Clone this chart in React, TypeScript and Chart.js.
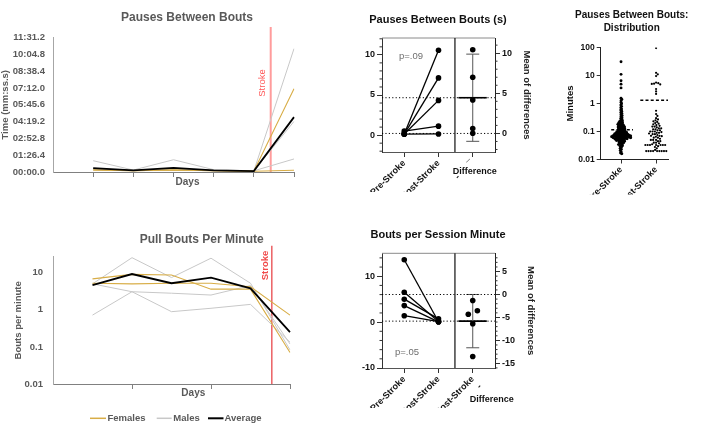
import React, { useEffect, useRef } from 'react';
import { Chart, registerables } from 'chart.js';

Chart.register(...registerables);

const FONT = '"Liberation Sans", Arial, Helvetica, sans-serif';
const W = 701;
const H = 433;

// ---------------- data ----------------
const dayLabels = ['', 'Day 1', 'Day 2', 'Day 3', 'Day 4', 'Day 5', 'Day 6'];

// Pauses between bouts (seconds)
const pauseMaleA = [null, 58, 10, 63, 12, 6, 67];
const pauseMaleB = [null, 12, 8, 12, 8, 5, 634];
const pauseMaleC = [null, 12, 8, 12, 8, 5, 260];
const pauseFemaleA = [null, 10, 7, 10, 7, 4, 428];
const pauseFemaleB = [null, 10, 7, 10, 7, 4, 9];
const pauseAverage = [null, 20, 8, 21, 8, 5, 282];
const pauseTicks = [0, 86.4, 172.8, 259.2, 345.6, 432, 518.4, 604.8, 691.2];
const pauseStrokeAt = 5.42;

// Pull bouts per minute
const boutMaleA = [null, 5.0, 25.4, 7.4, 24.6, 5.2, 0.083];
const boutMaleB = [null, 5.0, 3.07, 2.8, 2.5, 4.5, 0.12];
const boutMaleC = [null, 0.72, 3.07, 0.89, 1.1, 1.4, 0.134];
const boutFemaleA = [null, 6.8, 9.0, 8.7, 3.6, 3.6, 0.071];
const boutFemaleB = [null, 5.2, 5.0, 5.2, 5.2, 4.2, 0.72];
const boutAverage = [null, 4.65, 9.2, 5.2, 7.4, 3.8, 0.25];
const boutTicks = [0.01, 0.1, 1, 10];
const boutStrokeAt = 5.54;

// Paired pre/post: pauses (minutes)
const pausePre = [0.15, 0.13, 0.15, 0.5, 0.13];
const pausePost = [10.57, 7.13, 4.33, 1.12, 0.15];
const pauseDiffJitter = [0, 0, 0, 0, 0];
const pauseLeftTicks = [0, 5, 10];
const pauseRightTicks = [0, 5, 10];
const pauseXLabels = ['Pre-Stroke', 'Post-Stroke', '-      \u00AF'];

// Paired pre/post: bouts per session minute
const sessionPre = [13.6, 6.5, 5.0, 3.6, 1.4];
const sessionPost = [0.08, 0.13, 0.7, 0.07, 0.1];
const sessionDiffJitter = [0, 0, -0.13, 0.135, 0];
const sessionLeftTicks = [-10, 0, 10];
const sessionRightTicks = [-15, -10, -5, 0, 5];
const sessionXLabels = ['Pre-Stroke', 'Post-Stroke', ['Post-Stroke', '-']];

// Distribution of pauses (minutes)
const distCategories = ['Pre-Stroke', 'Post-Stroke'];
const distTicks = [0.01, 0.1, 1, 10, 100];
const distPreMean = 0.115;
const distPostMean = 1.3;
const distPre = [
  31, 11, 6.5, 4.9, 3.6,
  1.55, 1.4, 1.25, 1.1, 0.98, 0.88, 0.79, 0.71, 0.64, 0.58, 0.53, 0.48, 0.44, 0.4, 0.37, 0.34, 0.31, 0.29, 0.27,
  0.25, 0.24, 0.23, 0.22, 0.21, 0.2, 0.2, 0.19, 0.18, 0.18, 0.17, 0.17, 0.16, 0.16, 0.155,
  0.15, 0.145, 0.14, 0.14, 0.135, 0.13, 0.13, 0.125, 0.12, 0.12, 0.115, 0.115, 0.11, 0.11, 0.105, 0.105, 0.1, 0.1,
  0.098, 0.096, 0.095, 0.093, 0.092, 0.09, 0.089, 0.088, 0.087, 0.085, 0.084, 0.083, 0.082, 0.081, 0.08, 0.079,
  0.078, 0.077, 0.076, 0.075, 0.075, 0.074, 0.073, 0.072, 0.072, 0.071, 0.07, 0.07, 0.069, 0.068, 0.068, 0.067,
  0.067, 0.066, 0.065, 0.065, 0.064, 0.063, 0.063, 0.062, 0.062, 0.061, 0.06, 0.06, 0.059, 0.058, 0.058, 0.057,
  0.056, 0.056, 0.055, 0.054, 0.053, 0.052, 0.051, 0.05, 0.049, 0.048, 0.047, 0.046, 0.045,
  0.044, 0.042, 0.041, 0.04, 0.038, 0.037, 0.035, 0.034, 0.032, 0.031,
  0.029, 0.027, 0.025, 0.023, 0.021, 0.019, 0.017, 0.016,
];
const distPost = [
  95, 12.5, 11, 9.5, 5.6, 5.3, 5.1, 5.0, 4.8, 3.3, 2.7, 2.2,
  0.55, 0.42, 0.36, 0.3, 0.27, 0.25, 0.23, 0.22, 0.2, 0.19, 0.18, 0.17, 0.16, 0.15, 0.15, 0.14, 0.13, 0.13,
  0.12, 0.12, 0.11, 0.11, 0.1, 0.1, 0.1, 0.095, 0.09, 0.09, 0.085, 0.08, 0.08, 0.075, 0.07, 0.07, 0.068, 0.065,
  0.06, 0.06, 0.055, 0.05, 0.05, 0.05, 0.045, 0.045, 0.04, 0.04, 0.038, 0.035,
  0.033, 0.033, 0.033, 0.033, 0.033, 0.033, 0.033, 0.03, 0.028, 0.025, 0.022,
  0.02, 0.02, 0.02, 0.02, 0.02, 0.02, 0.02, 0.02, 0.02,
];

// ---------------- styles ----------------
const GOLD = '#d8ad46';
const GRAY_LINE = '#c8c8c8';
const BLACK = '#000000';
const EXCEL_TEXT = '#595959';
const T_CRIT_DF4 = 2.776;

// ---------------- helpers ----------------
function fmtTime(v: number): string {
  const mm = Math.floor(v / 60 + 1e-9);
  const ss = Math.max(0, v - mm * 60);
  return String(mm).padStart(2, '0') + ':' + ss.toFixed(1).padStart(4, '0');
}

function txt(ctx: any, s: string, x: number, y: number, font: string, color: string, align = 'center', rot = 0) {
  ctx.save();
  ctx.translate(x, y);
  ctx.rotate(rot);
  ctx.font = font;
  ctx.fillStyle = color;
  ctx.textAlign = align;
  ctx.textBaseline = 'middle';
  ctx.fillText(s, 0, 0);
  ctx.restore();
}

function seg(ctx: any, x1: number, y1: number, x2: number, y2: number, color: string, w: number, dash: number[] = []) {
  ctx.save();
  ctx.strokeStyle = color;
  ctx.lineWidth = w;
  ctx.setLineDash(dash);
  ctx.beginPath();
  ctx.moveTo(x1, y1);
  ctx.lineTo(x2, y2);
  ctx.stroke();
  ctx.restore();
}

const mean = (a: number[]) => a.reduce((s, v) => s + v, 0) / a.length;
const sd = (a: number[]) => {
  const m = mean(a);
  return Math.sqrt(a.reduce((s, v) => s + (v - m) * (v - m), 0) / (a.length - 1));
};

const baseOptions = (padding: any) => ({
  animation: false,
  responsive: false,
  maintainAspectRatio: false,
  events: [],
  layout: { padding },
  plugins: { legend: { display: false }, tooltip: { enabled: false }, title: { display: false } },
});

function lineDs(label: string, data: any[], color: string, width: number, order: number) {
  return { label, data, borderColor: color, backgroundColor: color, borderWidth: width, pointRadius: 0, tension: 0, fill: false, order };
}

const excelX = (h: number, showTick: (i: number) => boolean) => ({
  type: 'category',
  offset: false,
  ticks: { display: false, autoSkip: false },
  grid: {
    display: true, drawOnChartArea: false, drawTicks: true, tickLength: 5, lineWidth: 1,
    color: (c: any) => (showTick(c.index) ? '#808080' : 'rgba(0,0,0,0)'),
  },
  border: { display: true, color: '#808080', width: 1 },
  afterFit: (s: any) => { s.height = h; },
});

// ---------------- chart A: pauses line ----------------
function makePauseLine() {
  const plugin = {
    id: 'pauseDecor',
    beforeDatasetsDraw(chart: any) {
      const { ctx, scales: { x, y } } = chart;
      const px = x.getPixelForValue(pauseStrokeAt);
      seg(ctx, px, y.top - 10.5, px, y.bottom, '#ff9c9c', 2);
    },
    afterDraw(chart: any) {
      const { ctx, scales: { x, y } } = chart;
      const px = x.getPixelForValue(pauseStrokeAt);
      txt(ctx, 'Pauses Between Bouts', 187, 18, `bold 12px ${FONT}`, EXCEL_TEXT);
      txt(ctx, 'Time (mm:ss.s)', 5.5, (y.top + y.bottom) / 2, `bold 9.5px ${FONT}`, EXCEL_TEXT, 'center', -Math.PI / 2);
      txt(ctx, 'Days', 187.5, 182, `bold 10px ${FONT}`, EXCEL_TEXT);
      txt(ctx, 'Stroke', px - 8, 83, `9.5px ${FONT}`, '#ff5757', 'center', -Math.PI / 2);
    },
  };
  return {
    type: 'line',
    data: {
      labels: dayLabels,
      datasets: [
        lineDs('Average', pauseAverage, BLACK, 1.8, 0),
        lineDs('Females', pauseFemaleA, GOLD, 1.1, 1),
        lineDs('Females', pauseFemaleB, GOLD, 1.1, 1),
        lineDs('Males', pauseMaleA, GRAY_LINE, 1, 2),
        lineDs('Males', pauseMaleB, GRAY_LINE, 1, 2),
        lineDs('Males', pauseMaleC, GRAY_LINE, 1, 2),
      ],
    },
    options: {
      ...baseOptions({ left: 0, top: 37.5, right: W - 294, bottom: H - 172 - 20 }),
      scales: {
        x: excelX(20, (i) => i > 0),
        y: {
          type: 'linear', min: 0, max: 691.2,
          afterBuildTicks: (s: any) => { s.ticks = pauseTicks.map((v) => ({ value: v })); },
          ticks: { callback: (v: any) => fmtTime(Number(v)), color: EXCEL_TEXT, font: { family: FONT, size: 9.5, weight: 'bold' }, padding: 8 },
          grid: { display: false, drawTicks: false },
          border: { display: true, color: '#a6a6a6', width: 1 },
          afterFit: (s: any) => { s.width = 53; },
        },
      },
    },
    plugins: [plugin],
  };
}

// ---------------- chart B: bouts line (log) ----------------
function makeBoutLine() {
  const plugin = {
    id: 'boutDecor',
    beforeDatasetsDraw(chart: any) {
      const { ctx, scales: { x, y } } = chart;
      const px = x.getPixelForValue(boutStrokeAt);
      seg(ctx, px, y.top - 11, px, y.bottom, '#e8474b', 1.3);
    },
    afterDraw(chart: any) {
      const { ctx, scales: { x, y } } = chart;
      const px = x.getPixelForValue(boutStrokeAt);
      txt(ctx, 'Pull Bouts Per Minute', 201.7, 240, `bold 12px ${FONT}`, EXCEL_TEXT);
      txt(ctx, 'Bouts per minute', 18, (y.top + y.bottom) / 2, `bold 9.5px ${FONT}`, EXCEL_TEXT, 'center', -Math.PI / 2);
      txt(ctx, 'Days', 193.3, 393.3, `bold 10px ${FONT}`, EXCEL_TEXT);
      txt(ctx, 'Stroke', px - 6.5, 265.5, `bold 9.5px ${FONT}`, '#f04a4a', 'center', -Math.PI / 2);
      // legend
      const ly = 418.3;
      const f = `bold 9.5px ${FONT}`;
      seg(ctx, 90, ly, 106, ly, GOLD, 1.5);
      txt(ctx, 'Females', 107.5, ly, f, EXCEL_TEXT, 'left');
      seg(ctx, 156.7, ly, 171.7, ly, GRAY_LINE, 1.5);
      txt(ctx, 'Males', 173.3, ly, f, EXCEL_TEXT, 'left');
      seg(ctx, 208, ly, 223.5, ly, BLACK, 2);
      txt(ctx, 'Average', 224.5, ly, f, EXCEL_TEXT, 'left');
    },
  };
  return {
    type: 'line',
    data: {
      labels: dayLabels,
      datasets: [
        lineDs('Average', boutAverage, BLACK, 1.8, 0),
        lineDs('Females', boutFemaleA, GOLD, 1.1, 1),
        lineDs('Females', boutFemaleB, GOLD, 1.1, 1),
        lineDs('Males', boutMaleA, GRAY_LINE, 1, 2),
        lineDs('Males', boutMaleB, GRAY_LINE, 1, 2),
        lineDs('Males', boutMaleC, GRAY_LINE, 1, 2),
      ],
    },
    options: {
      ...baseOptions({ left: 0, top: 256.7, right: W - 290, bottom: H - 384 - 20 }),
      scales: {
        x: excelX(20, (i) => i > 0 && i % 2 === 0),
        y: {
          type: 'logarithmic', min: 0.01, max: 27,
          afterBuildTicks: (s: any) => { s.ticks = boutTicks.map((v) => ({ value: v })); },
          ticks: { callback: (v: any) => String(v), color: EXCEL_TEXT, font: { family: FONT, size: 9.5, weight: 'bold' }, padding: 10 },
          grid: { display: false, drawTicks: false },
          border: { display: true, color: '#a6a6a6', width: 1 },
          afterFit: (s: any) => { s.width = 53; },
        },
      },
    },
    plugins: [plugin],
  };
}

// ---------------- charts C/D: paired estimation plots ----------------
const PX_MIN = 0.35;
const PX_MAX = 3.65;
const DIVIDER_AT = 2.48;

function makePaired(p: any) {
  const { pre, post, jitter, leftMin, leftMax, leftTicks, rightTicks, leftMinor, rightMinor, area, xLabels } = p;
  const preMean = mean(pre);
  const postMean = mean(post);
  const diffs = post.map((v: number, i: number) => v - pre[i]);
  const md = mean(diffs);
  const ci = (T_CRIT_DF4 * sd(diffs)) / Math.sqrt(diffs.length);
  const tickFont = { family: FONT, size: 9, weight: 'bold' };
  const pt = { pointRadius: 2.8, pointBackgroundColor: '#000', pointBorderColor: '#000', pointBorderWidth: 0 };
  const lineOnly = { showLine: true, pointRadius: 0, fill: false };
  const datasets: any[] = [
    { data: [{ x: PX_MIN, y: preMean }, { x: PX_MAX, y: preMean }], ...lineOnly, borderColor: '#000', borderWidth: 1, borderDash: [1.2, 2.2] },
    { data: [{ x: PX_MIN, y: postMean }, { x: PX_MAX, y: postMean }], ...lineOnly, borderColor: '#000', borderWidth: 1, borderDash: [1.2, 2.2] },
  ];
  pre.forEach((v: number, i: number) => {
    datasets.push({ data: [{ x: 1, y: v }, { x: 2, y: post[i] }], showLine: true, borderColor: '#000', borderWidth: 1.3, ...pt });
  });
  datasets.push({ data: diffs.map((d: number, i: number) => ({ x: 3 + jitter[i], y: d })), yAxisID: 'y2', showLine: false, ...pt });
  datasets.push({ data: [{ x: 3, y: md - ci }, { x: 3, y: md + ci }], yAxisID: 'y2', ...lineOnly, borderColor: '#555', borderWidth: 1 });
  datasets.push({ data: [{ x: 2.81, y: md + ci }, { x: 3.19, y: md + ci }], yAxisID: 'y2', ...lineOnly, borderColor: '#555', borderWidth: 1 });
  datasets.push({ data: [{ x: 2.81, y: md - ci }, { x: 3.19, y: md - ci }], yAxisID: 'y2', ...lineOnly, borderColor: '#555', borderWidth: 1 });
  datasets.push({ data: [{ x: 2.58, y: md }, { x: 3.41, y: md }], yAxisID: 'y2', ...lineOnly, borderColor: '#000', borderWidth: 1.6 });

  const plugin = {
    id: 'pairedDecor' + p.key,
    afterDraw(chart: any) {
      const { ctx, chartArea: ca, scales } = chart;
      const { x, y, y2 } = scales;
      seg(ctx, ca.left, ca.top, ca.right, ca.top, '#8a8a8a', 1);
      const dx = x.getPixelForValue(DIVIDER_AT);
      seg(ctx, dx, ca.top, dx, ca.bottom, '#222', 1.3);
      for (let k = Math.ceil(leftMin / leftMinor); k * leftMinor <= leftMax + 1e-9; k++) {
        const v = k * leftMinor;
        if (leftTicks.includes(v)) continue;
        const py = y.getPixelForValue(v);
        seg(ctx, ca.left - 2.5, py, ca.left, py, '#333', 1);
      }
      const rMin = y2.min, rMax = y2.max;
      for (let k = Math.ceil(rMin / rightMinor); k * rightMinor <= rMax + 1e-9; k++) {
        const v = k * rightMinor;
        if (rightTicks.includes(v)) continue;
        const py = y2.getPixelForValue(v);
        seg(ctx, ca.right, py, ca.right + 2.5, py, '#333', 1);
      }
      txt(ctx, p.title, 438, p.titleY, `bold 11px ${FONT}`, '#111');
      txt(ctx, 'Mean of differences', p.rightTitleX, (ca.top + ca.bottom) / 2, `bold 9.5px ${FONT}`, '#222', 'center', Math.PI / 2);
      txt(ctx, p.pText, p.pX, p.pY, `9.5px ${FONT}`, '#6e6e6e');
      txt(ctx, 'Difference', p.diffX, p.diffY, `bold 9px ${FONT}`, '#111');
    },
  };

  return {
    type: 'scatter',
    data: { datasets },
    options: {
      ...baseOptions({ left: area.L - 40, top: area.T, right: W - area.R - 40, bottom: H - area.B - 40 }),
      scales: {
        x: {
          type: 'linear', min: PX_MIN, max: PX_MAX,
          afterBuildTicks: (s: any) => { s.ticks = [1, 2, 3].map((v) => ({ value: v })); },
          ticks: { autoSkip: false, minRotation: 45, maxRotation: 45, padding: 1, color: '#111', font: tickFont, callback: (_v: any, i: number) => xLabels[i] },
          grid: { drawOnChartArea: false, tickLength: 5, color: '#333', lineWidth: 1 },
          border: { display: true, color: '#555', width: 1 },
          afterFit: (s: any) => { s.height = 40; },
        },
        y: {
          type: 'linear', position: 'left', min: leftMin, max: leftMax,
          afterBuildTicks: (s: any) => { s.ticks = leftTicks.map((v: number) => ({ value: v })); },
          ticks: { color: '#111', font: tickFont, padding: 2 },
          grid: { drawOnChartArea: false, tickLength: 5, color: '#333', lineWidth: 1 },
          border: { display: true, color: '#333', width: 1 },
          afterFit: (s: any) => { s.width = 40; },
        },
        y2: {
          type: 'linear', position: 'right', min: leftMin - preMean, max: leftMax - preMean,
          afterBuildTicks: (s: any) => { s.ticks = rightTicks.map((v: number) => ({ value: v })); },
          ticks: { color: '#111', font: tickFont, padding: 2 },
          grid: { drawOnChartArea: false, tickLength: 5, color: '#333', lineWidth: 1 },
          border: { display: true, color: '#222', width: 1 },
          afterFit: (s: any) => { s.width = 40; },
        },
      },
    },
    plugins: [plugin],
  };
}

const makePausePaired = () => makePaired({
  key: 'C', pre: pausePre, post: pausePost, jitter: pauseDiffJitter,
  leftMin: -2.1, leftMax: 12.1, leftTicks: pauseLeftTicks, rightTicks: pauseRightTicks, leftMinor: 1, rightMinor: 1,
  area: { L: 382, T: 38, R: 495, B: 152 }, xLabels: pauseXLabels,
  title: 'Pauses Between Bouts (s)', titleY: 20, rightTitleX: 526.7,
  pText: 'p=.09', pX: 411, pY: 56.7, diffX: 474.7, diffY: 171.7,
});

const makeSessionPaired = () => makePaired({
  key: 'D', pre: sessionPre, post: sessionPost, jitter: sessionDiffJitter,
  leftMin: -10, leftMax: 15, leftTicks: sessionLeftTicks, rightTicks: sessionRightTicks, leftMinor: 2, rightMinor: 1,
  area: { L: 382, T: 253.3, R: 495, B: 368 }, xLabels: sessionXLabels,
  title: 'Bouts per Session Minute', titleY: 235, rightTitleX: 531,
  pText: 'p=.05', pX: 407, pY: 352.7, diffX: 491.7, diffY: 400,
});

// ---------------- chart E: distribution ----------------
function swarmOffsets(ys: number[], d: number, maxHalf: number): number[] {
  const order = ys.map((_y, i) => i).sort((a, b) => ys[a] - ys[b]);
  const placed: { x: number; y: number }[] = [];
  const out = new Array(ys.length).fill(0);
  for (const i of order) {
    const y = ys[i];
    const near = placed.filter((q) => Math.abs(q.y - y) < d);
    const cands = [0];
    for (const q of near) {
      const dx = Math.sqrt(Math.max(0, d * d - (q.y - y) * (q.y - y)));
      cands.push(q.x + dx, q.x - dx);
    }
    cands.sort((a, b) => Math.abs(a) - Math.abs(b));
    let chosen: number | null = null;
    for (const c of cands) {
      if (Math.abs(c) > maxHalf) continue;
      if (near.every((q) => (q.x - c) * (q.x - c) + (q.y - y) * (q.y - y) >= d * d - 1e-6)) { chosen = c; break; }
    }
    if (chosen === null) {
      let best = 0, bestScore = -1;
      for (let c = -maxHalf; c <= maxHalf + 1e-9; c += 0.5) {
        let score = Infinity;
        for (const q of near) score = Math.min(score, (q.x - c) * (q.x - c) + (q.y - y) * (q.y - y));
        if (score > bestScore) { bestScore = score; best = c; }
      }
      chosen = best;
    }
    placed.push({ x: chosen, y });
    out[i] = chosen;
  }
  return out;
}

function makeDist() {
  const ptPre = { pointRadius: 1.45, pointBackgroundColor: '#000', pointBorderColor: '#000', pointBorderWidth: 0, showLine: false };
  const ptPost = { pointRadius: 1.1, pointBackgroundColor: '#000', pointBorderColor: '#000', pointBorderWidth: 0, showLine: false };
  const dashLine = { showLine: true, pointRadius: 0, borderColor: '#000', borderWidth: 1.5, borderDash: [3, 2.2], fill: false };
  const plugin = {
    id: 'distDecor',
    afterDraw(chart: any) {
      const { ctx, chartArea: ca } = chart;
      txt(ctx, 'Pauses Between Bouts:', 631.7, 15, `bold 10px ${FONT}`, '#111');
      txt(ctx, 'Distribution', 631.7, 28.3, `bold 10px ${FONT}`, '#111');
      txt(ctx, 'Minutes', 570, (ca.top + ca.bottom) / 2, `bold 9.5px ${FONT}`, '#111', 'center', -Math.PI / 2);
    },
  };
  return {
    type: 'scatter',
    data: {
      datasets: [
        { data: distPre.map((v) => ({ x: 1, y: v })), ...ptPre },
        { data: distPost.map((v) => ({ x: 2, y: v })), ...ptPost },
        { data: [{ x: 0.72, y: distPreMean }, { x: 1.34, y: distPreMean }], ...dashLine },
        { data: [{ x: 1.55, y: distPostMean }, { x: 2.47, y: distPostMean }], ...dashLine },
      ],
    },
    options: {
      ...baseOptions({ left: 600.7 - 30, top: 47.5, right: W - 668, bottom: H - 159.5 - 35 }),
      scales: {
        x: {
          type: 'linear', min: 0.42, max: 2.34,
          afterBuildTicks: (s: any) => { s.ticks = [1, 2].map((v) => ({ value: v })); },
          ticks: { autoSkip: false, minRotation: 45, maxRotation: 45, padding: 1, color: '#111', font: { family: FONT, size: 9, weight: 'bold' }, callback: (_v: any, i: number) => distCategories[i] },
          grid: { drawOnChartArea: false, tickLength: 4, color: '#333', lineWidth: 1 },
          border: { display: true, color: '#222', width: 1 },
          afterFit: (s: any) => { s.height = 35; },
        },
        y: {
          type: 'logarithmic', min: 0.01, max: 100,
          afterBuildTicks: (s: any) => { s.ticks = distTicks.map((v) => ({ value: v })); },
          ticks: { callback: (v: any) => String(v), color: '#111', font: { family: FONT, size: 8.5, weight: 'bold' }, padding: 2 },
          grid: { drawOnChartArea: false, tickLength: 4, color: '#333', lineWidth: 1 },
          border: { display: true, color: '#222', width: 1 },
          afterFit: (s: any) => { s.width = 30; },
        },
      },
    },
    plugins: [plugin],
  };
}

function applySwarm(chart: any) {
  const xs = chart.scales.x;
  const ys = chart.scales.y;
  const unit = xs.getPixelForValue(2) - xs.getPixelForValue(1);
  const offPre = swarmOffsets(distPre.map((v) => ys.getPixelForValue(v)), 1.5, 10.5);
  const offPost = swarmOffsets(distPost.map((v) => ys.getPixelForValue(v)), 2.3, 11);
  chart.data.datasets[0].data = distPre.map((v, i) => ({ x: 1 + offPre[i] / unit, y: v }));
  chart.data.datasets[1].data = distPost.map((v, i) => ({ x: 2 + offPost[i] / unit, y: v }));
  chart.update('none');
}

// ---------------- components ----------------
function ChartCanvas({ make, after }: { make: () => any; after?: (c: any) => void }) {
  const ref = useRef<HTMLCanvasElement>(null);
  useEffect(() => {
    const chart = new Chart(ref.current as HTMLCanvasElement, make());
    if (after) after(chart);
    return () => chart.destroy();
  }, []);
  return (
    <canvas
      ref={ref}
      width={W}
      height={H}
      style={{ position: 'absolute', left: 0, top: 0, width: W, height: H }}
    />
  );
}

export default function App() {
  return (
    <div style={{ position: 'absolute', left: 0, top: 0, width: W, height: H, background: '#fff', overflow: 'hidden' }}>
      <ChartCanvas make={makePauseLine} />
      <ChartCanvas make={makeBoutLine} />
      <ChartCanvas make={makePausePaired} />
      <ChartCanvas make={makeSessionPaired} />
      <ChartCanvas make={makeDist} after={applySwarm} />
    </div>
  );
}
